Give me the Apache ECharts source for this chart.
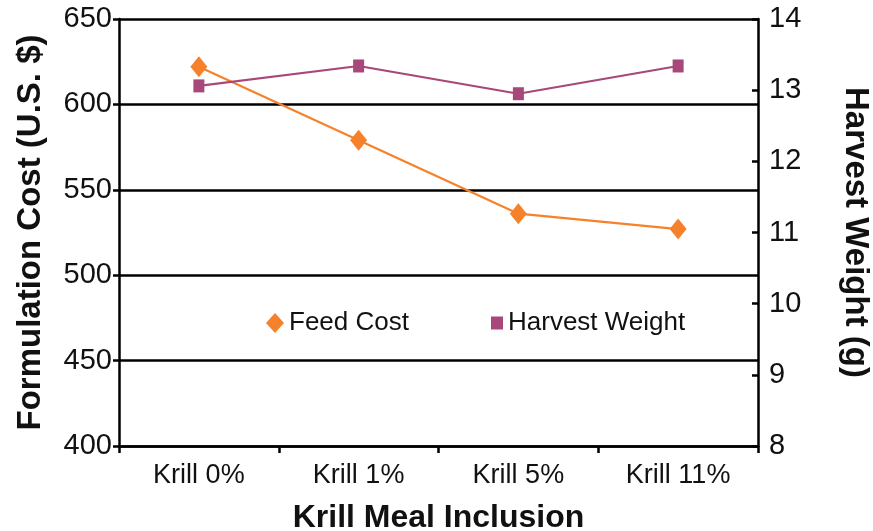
<!DOCTYPE html>
<html>
<head>
<meta charset="utf-8">
<script src="https://cdn.jsdelivr.net/npm/echarts@6/dist/echarts.min.js"></script>
<style>html,body{margin:0;padding:0;background:#fff}#c{width:873px;height:531px}</style>
</head>
<body>
<div id="c"></div>
<script>
var categories = ['Krill 0%', 'Krill 1%', 'Krill 5%', 'Krill 11%'];
var feedCost = [622, 579, 536, 527];
var harvestWeight = [13.06, 13.34, 12.95, 13.34];
var leftTicks = [400, 650, 50];
var rightTicks = [8, 14, 1];

var FONT = '"Liberation Sans", Arial, sans-serif';
var chart = echarts.init(document.getElementById('c'), null, {renderer: 'canvas'});
chart.setOption({
  animation: false,
  backgroundColor: '#fff',
  grid: {left: 119, right: 115, top: 19, bottom: 85, containLabel: false, outerBoundsMode: 'none'},
  legend: [{
    left: 261, top: 305, itemWidth: 18, itemHeight: 20,
    textStyle: {fontFamily: FONT, fontSize: 26, color: '#111'},
    data: [{name: 'Feed Cost', icon: 'diamond', itemStyle: {color: '#F5822A'}}]
  }, {
    left: 486, top: 305, itemWidth: 12, itemHeight: 13,
    textStyle: {fontFamily: FONT, fontSize: 26, color: '#111'},
    data: [{name: 'Harvest Weight', icon: 'rect', itemStyle: {color: '#A8477A'}}]
  }],
  xAxis: {
    type: 'category', data: categories, boundaryGap: true,
    name: 'Krill Meal Inclusion', nameLocation: 'middle', nameGap: 56,
    nameTextStyle: {fontFamily: FONT, fontSize: 32, fontWeight: 'bold', color: '#111'},
    axisLine: {lineStyle: {color: '#000', width: 2.5}},
    axisTick: {show: true, length: 7, lineStyle: {color: '#000', width: 2.5}},
    axisLabel: {fontFamily: FONT, fontSize: 27, color: '#111', margin: 16}
  },
  yAxis: [{
    type: 'value', min: leftTicks[0], max: leftTicks[1], interval: leftTicks[2],
    name: 'Formulation Cost (U.S. $)', nameLocation: 'middle', nameGap: 72,
    nameTextStyle: {fontFamily: FONT, fontSize: 33, fontWeight: 'bold', color: '#111'},
    axisLine: {show: true, lineStyle: {color: '#000', width: 2.5}},
    axisTick: {show: true, length: 6, lineStyle: {color: '#000', width: 2.5}},
    axisLabel: {fontFamily: FONT, fontSize: 29, color: '#111', margin: 7},
    splitLine: {show: true, lineStyle: {color: '#000', width: 2.5}}
  }, {
    type: 'value', position: 'right', min: rightTicks[0], max: rightTicks[1], interval: rightTicks[2],
    name: 'Harvest Weight (g)', nameLocation: 'middle', nameGap: 81, nameRotate: -90,
    nameTextStyle: {fontFamily: FONT, fontSize: 33, fontWeight: 'bold', color: '#111'},
    axisLine: {show: true, lineStyle: {color: '#000', width: 2.5}},
    axisTick: {show: true, inside: true, length: 6, lineStyle: {color: '#000', width: 2.5}},
    axisLabel: {fontFamily: FONT, fontSize: 29, color: '#111', margin: 11},
    splitLine: {show: false}
  }],
  series: [{
    name: 'Feed Cost', type: 'line', yAxisIndex: 0, data: feedCost,
    symbol: 'diamond', symbolSize: [17, 21],
    lineStyle: {color: '#F5822A', width: 2.2},
    itemStyle: {color: '#F5822A'}
  }, {
    name: 'Harvest Weight', type: 'line', yAxisIndex: 1, data: harvestWeight,
    symbol: 'rect', symbolSize: [11, 13],
    lineStyle: {color: '#A8477A', width: 2.2},
    itemStyle: {color: '#A8477A'}
  }]
});
</script>
</body>
</html>
